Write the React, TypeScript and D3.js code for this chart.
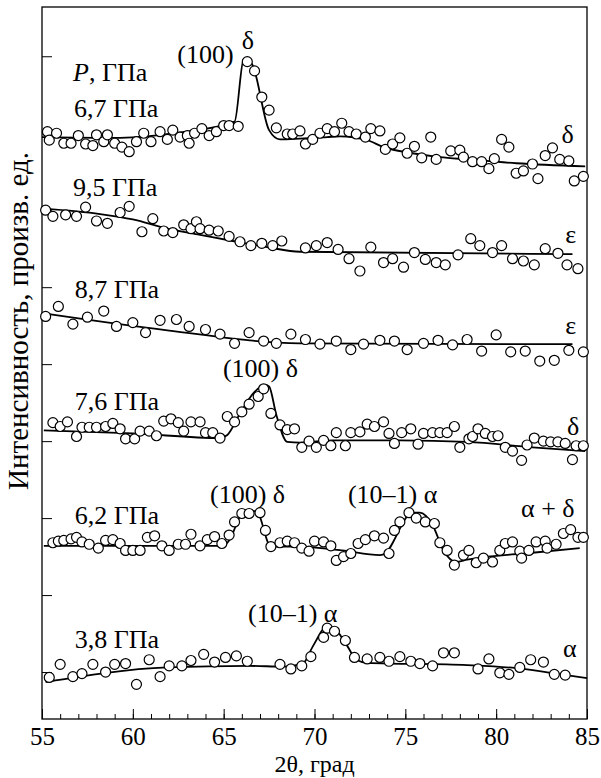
import React, { useEffect, useRef } from 'react';
import * as d3 from 'd3';

const W = 601, H = 778;
const margin = { left: 42, right: 14, top: 7, bottom: 59 };
const FONT = 'Liberation Serif, Times New Roman, Times, DejaVu Serif, serif';

// observed points [2θ, intensity]
const obs67 = [[55.3,70.2],[55.4,69.1],[55.8,70.0],[56.2,68.7],[56.6,68.7],[57.0,69.7],[57.4,68.6],[57.8,68.4],[58.0,69.8],[58.4,68.9],[58.6,69.8],[59.0,68.7],[59.4,68.2],[59.8,67.6],[60.2,68.9],[60.6,70.0],[61.0,68.9],[61.5,70.2],[61.9,69.2],[62.2,70.4],[62.6,69.5],[63.0,69.7],[63.1,68.7],[63.4,70.0],[63.8,70.6],[64.2,69.7],[64.6,70.2],[65.0,71.0],[65.3,71.0],[65.8,70.9],[66.3,79.3],[66.7,78.1],[67.1,74.7],[67.5,73.0],[67.9,70.7],[68.5,69.9],[68.8,69.9],[69.2,70.3],[69.5,68.6],[69.9,69.2],[70.3,70.0],[70.7,70.6],[71.1,70.2],[71.5,71.3],[71.9,70.2],[72.3,69.9],[72.8,69.5],[73.1,70.6],[73.6,70.3],[73.9,67.9],[74.3,68.6],[74.7,69.4],[75.1,67.4],[75.5,68.3],[75.9,66.8],[76.4,69.5],[76.7,66.6],[77.5,67.7],[78.0,67.8],[78.2,66.9],[78.7,66.3],[79.2,66.3],[79.6,65.4],[79.9,66.7],[80.3,69.2],[80.7,68.2],[81.1,64.8],[81.5,65.1],[82.0,66.0],[82.3,64.1],[82.7,67.1],[83.1,68.1],[83.5,66.6],[84.0,66.4],[84.3,63.8],[84.8,64.4]];
const fit67 = [[55.0,69.5],[59.3,69.4],[62.6,70.1],[65.6,71.5],[66.1,79.6],[66.3,79.7],[66.6,78.8],[67.5,70.4],[68.1,69.2],[69.2,69.3],[70.7,69.5],[71.4,69.6],[72.9,69.1],[73.8,68.2],[75.4,67.4],[76.9,66.9],[78.4,66.6],[81.1,66.1],[84.9,65.7]];

const obs95 = [[55.2,60.0],[55.6,59.2],[56.3,59.4],[56.9,59.2],[57.4,60.4],[58.0,58.6],[58.6,58.3],[59.3,59.7],[59.8,60.5],[60.5,57.2],[61.1,58.9],[61.7,57.3],[62.2,57.1],[62.8,58.1],[63.2,57.6],[63.5,58.5],[63.7,57.6],[64.2,57.4],[64.7,57.3],[65.3,56.6],[65.9,55.9],[66.5,55.4],[67.1,55.7],[67.7,55.4],[68.2,56.0],[69.5,55.1],[70.1,55.4],[70.7,55.8],[71.3,54.9],[71.9,53.7],[72.5,52.1],[73.1,55.2],[73.8,53.2],[74.3,53.7],[74.9,52.6],[75.5,54.5],[76.1,53.6],[76.7,53.2],[77.2,52.9],[77.9,54.2],[78.6,56.3],[79.1,55.4],[79.8,54.5],[80.3,55.4],[80.9,53.7],[81.5,53.4],[82.1,52.9],[82.7,55.0],[83.4,54.4],[83.9,52.9],[84.5,52.4]];
const fit95 = [[55.1,60.2],[58.2,59.5],[60.0,58.8],[61.9,57.6],[63.7,56.8],[65.5,56.0],[67.4,55.2],[69.2,54.6],[84.2,54.3]];

const obs87 = [[55.2,46.2],[55.9,47.5],[56.7,45.2],[57.5,46.1],[58.4,46.9],[59.1,44.9],[60.0,45.4],[60.7,44.1],[61.5,45.7],[62.4,45.8],[63.1,44.9],[64.0,44.5],[64.8,43.9],[65.6,42.7],[66.4,44.1],[67.2,43.0],[67.9,42.7],[68.7,43.9],[69.5,43.2],[70.3,42.6],[71.2,43.0],[72.0,41.9],[72.7,42.6],[73.6,43.1],[74.4,43.0],[75.1,41.9],[76.0,42.7],[76.8,43.1],[77.6,42.5],[78.4,43.2],[79.2,41.7],[80.0,43.8],[80.8,41.6],[81.6,41.7],[82.4,40.4],[83.2,40.5],[84.0,41.8],[84.8,41.6]];
const fit87 = [[55.1,46.6],[61.9,44.4],[69.2,42.7],[84.2,42.6]];

const obs76 = [[55.6,32.4],[56.0,31.9],[56.4,32.5],[56.9,30.6],[57.2,31.8],[57.6,31.8],[58.0,31.8],[58.5,31.9],[58.9,32.3],[59.3,31.6],[59.6,30.3],[60.1,30.3],[60.4,31.3],[60.9,31.3],[61.3,30.7],[61.7,32.6],[62.1,32.9],[62.5,32.4],[62.8,31.3],[63.2,32.5],[63.7,32.5],[64.0,31.1],[64.4,31.1],[64.8,30.4],[65.2,33.2],[65.6,32.5],[66.0,33.8],[66.4,34.8],[66.9,35.8],[67.2,36.8],[67.6,33.6],[68.1,32.1],[68.5,31.5],[68.9,31.6],[69.3,29.2],[69.7,30.0],[70.1,29.2],[70.5,30.1],[70.9,29.4],[71.2,31.1],[71.7,29.4],[72.0,31.1],[72.5,31.2],[72.9,32.2],[73.3,31.9],[73.8,32.5],[74.1,31.0],[74.4,29.7],[74.8,31.1],[75.3,31.6],[75.7,29.6],[76.0,31.0],[76.5,31.1],[76.9,31.1],[77.3,31.1],[77.7,31.9],[78.0,29.2],[78.5,30.3],[78.7,30.6],[79.0,31.6],[79.4,31.0],[79.8,30.6],[80.1,30.7],[80.5,29.2],[80.9,28.7],[81.4,27.5],[81.7,29.5],[82.1,30.4],[82.6,30.0],[83.0,29.9],[83.4,29.9],[83.8,29.7],[84.2,27.6],[84.4,29.4],[84.8,29.4]];
const fit76 = [[55.1,31.4],[60.0,31.0],[64.8,30.4],[65.2,30.8],[65.9,33.6],[66.7,36.4],[67.3,37.3],[67.5,37.1],[67.9,33.4],[68.5,29.9],[69.2,29.8],[71.0,30.1],[74.7,30.1],[78.4,29.9],[82.0,29.2],[84.9,28.7]];

const obs62 = [[55.6,16.8],[55.9,17.0],[56.2,17.1],[56.6,17.3],[56.9,17.5],[57.2,16.9],[57.6,16.6],[58.1,16.1],[58.5,17.1],[58.9,17.2],[59.3,16.7],[59.6,15.8],[60.0,15.8],[60.4,15.8],[60.8,17.5],[61.2,17.7],[61.6,16.4],[62.0,15.8],[62.5,16.6],[62.9,16.6],[63.2,17.9],[63.7,16.4],[64.1,17.2],[64.5,17.6],[64.9,16.7],[65.3,17.8],[65.6,19.5],[66.0,20.6],[66.4,20.6],[67.0,20.7],[67.3,18.4],[67.6,16.3],[68.1,16.8],[68.5,17.0],[68.9,16.8],[69.3,16.1],[69.7,15.7],[70.0,17.0],[70.5,16.9],[70.9,16.4],[71.2,14.5],[71.6,15.0],[72.0,15.4],[72.4,16.7],[72.8,17.2],[73.3,17.7],[73.8,17.4],[74.1,15.4],[74.4,18.4],[74.7,19.5],[75.2,20.7],[75.6,20.0],[76.1,19.5],[76.6,19.3],[76.9,16.8],[77.3,15.8],[77.7,13.9],[78.2,15.2],[78.5,15.8],[78.9,14.2],[79.3,14.8],[79.8,14.3],[80.2,15.8],[80.5,16.7],[80.9,16.9],[81.3,15.7],[81.4,14.8],[81.8,15.8],[82.2,16.9],[82.7,17.0],[82.8,16.1],[83.3,16.6],[83.7,18.0],[84.1,18.5],[84.5,17.5],[84.8,17.5]];
const fit62 = [[55.1,16.4],[65.0,16.4],[65.3,17.1],[66.1,20.8],[66.8,20.9],[67.6,16.3],[69.2,16.3],[71.5,15.8],[73.6,15.2],[73.8,15.3],[75.4,20.7],[75.8,20.7],[76.5,19.1],[77.1,15.8],[77.8,14.3],[78.4,14.6],[82.0,15.5],[84.6,16.1]];

const obs38 = [[55.4,-0.7],[56.0,1.0],[56.7,-0.6],[57.2,-0.2],[57.8,1.0],[58.5,0.0],[59.0,1.0],[59.6,1.1],[60.2,-1.6],[60.9,1.6],[61.5,-0.6],[62.0,0.8],[62.7,0.8],[63.2,1.5],[63.9,2.3],[64.5,1.3],[65.1,1.9],[65.7,2.1],[66.3,1.4],[68.1,1.0],[68.7,0.4],[69.3,0.8],[69.8,2.0],[70.5,4.5],[70.7,5.7],[71.1,5.3],[71.7,4.1],[72.2,1.9],[72.9,1.7],[73.6,1.9],[74.1,1.4],[74.7,2.0],[75.3,1.4],[75.8,1.1],[76.5,0.8],[77.1,2.5],[77.7,2.5],[79.0,0.4],[79.6,1.7],[80.2,-0.1],[80.7,-0.3],[81.3,0.6],[81.9,1.6],[82.6,1.3],[83.2,-0.3],[83.8,-0.4]];
const fit38 = [[55.2,-1.3],[61.9,0.6],[66.4,0.8],[68.3,0.7],[69.4,1.2],[69.9,3.3],[70.7,5.9],[71.0,5.8],[71.8,3.4],[72.3,1.6],[72.9,1.2],[78.4,0.9],[81.1,0.5],[83.0,-0.1],[85.0,-0.8]];

const series = [
  { obs: obs67, fit: fit67 },
  { obs: obs95, fit: fit95 },
  { obs: obs87, fit: fit87 },
  { obs: obs76, fit: fit76 },
  { obs: obs62, fit: fit62 },
  { obs: obs38, fit: fit38 },
];

const xMajor = [55, 60, 65, 70, 75, 80, 85];
const xMinor = d3.range(55, 86, 1);
const yTicks = [0, 10, 20, 30, 40, 50, 60, 70, 80];

// annotations in data coords (2θ, intensity), text-anchor start
const labels = [
  { text: '6,7 ГПа', x: 56.76, y: 72.1 },
  { text: '(100)', x: 62.45, y: 79.1 },
  { text: 'δ', x: 66.0, y: 81.0 },
  { text: 'δ', x: 83.6, y: 68.7 },
  { text: '9,5 ГПа', x: 56.7, y: 61.9 },
  { text: 'ε', x: 83.8, y: 55.7 },
  { text: '8,7 ГПа', x: 56.8, y: 48.6 },
  { text: 'ε', x: 83.8, y: 43.9 },
  { text: '(100) δ', x: 64.96, y: 38.3 },
  { text: '7,6 ГПа', x: 56.8, y: 34.0 },
  { text: 'δ', x: 83.9, y: 30.8 },
  { text: '(100) δ', x: 64.25, y: 21.9 },
  { text: '6,2 ГПа', x: 56.8, y: 19.2 },
  { text: '(10–1) α', x: 71.84, y: 21.9 },
  { text: 'α + δ', x: 81.37, y: 20.1 },
  { text: '(10–1) α', x: 66.34, y: 6.5 },
  { text: '3,8 ГПа', x: 56.8, y: 3.1 },
  { text: 'α', x: 83.68, y: 1.9 },
];

export default function App() {
  const xAxisRef = useRef<SVGGElement>(null);
  const xMinorRef = useRef<SVGGElement>(null);
  const yAxisRef = useRef<SVGGElement>(null);

  const x = d3.scaleLinear().domain([55, 85]).range([margin.left, W - margin.right]);
  const y = d3.scaleLinear().domain([-6.1, 86.4]).range([H - margin.bottom, margin.top]);

  const line = d3.line<number[]>()
    .x(d => x(d[0]))
    .y(d => y(d[1]))
    .curve(d3.curveMonotoneX);

  useEffect(() => {
    document.body.style.margin = '0';

    const gMinor = d3.select(xMinorRef.current);
    gMinor.call(d3.axisBottom(x).tickValues(xMinor).tickSize(-5).tickFormat(() => '') as any);
    gMinor.select('.domain').remove();

    const gx = d3.select(xAxisRef.current);
    gx.call(d3.axisBottom(x).tickValues(xMajor).tickSize(-10).tickPadding(8).tickFormat(d3.format('d')) as any);
    gx.select('.domain').remove();
    gx.attr('font-size', 25).attr('font-family', FONT);
    gx.selectAll('text').style('font-family', FONT);

    const gy = d3.select(yAxisRef.current);
    gy.call(d3.axisLeft(y).tickValues(yTicks).tickSize(-10).tickFormat(() => '') as any);
    gy.select('.domain').remove();
  }, []);

  const plotH = H - margin.top - margin.bottom;
  const txt = { fontFamily: FONT };

  return (
    <svg width={W} height={H} style={{ position: 'absolute', left: 0, top: 0, display: 'block', background: '#fff', fontFamily: FONT }}>
      <rect x={margin.left} y={margin.top} width={W - margin.left - margin.right} height={plotH}
        fill="none" stroke="#000" strokeWidth={1.3} />
      <g ref={xMinorRef} transform={`translate(0,${H - margin.bottom})`} />
      <g ref={xAxisRef} transform={`translate(0,${H - margin.bottom})`} />
      <g ref={yAxisRef} transform={`translate(${margin.left},0)`} />

      {series.map((s, i) => (
        <path key={'f' + i} d={line(s.fit) || ''} fill="none" stroke="#000" strokeWidth={1.8} />
      ))}
      {series.map((s, i) => (
        <g key={'o' + i}>
          {s.obs.map((d, j) => (
            <circle key={j} cx={x(d[0])} cy={y(d[1])} r={5} fill="#fff" stroke="#000" strokeWidth={1.2} />
          ))}
        </g>
      ))}

      <text x={x(56.71)} y={y(76.8)} fontSize={26} style={txt}>
        <tspan fontStyle="italic">P</tspan>, ГПа
      </text>
      {labels.map((l, i) => (
        <text key={i} x={x(l.x)} y={y(l.y)} fontSize={26} style={txt}>{l.text}</text>
      ))}

      <text x={(margin.left + W - margin.right) / 2} y={772} fontSize={24} textAnchor="middle" style={txt}>2θ, град</text>
      <text transform={`translate(28,${321}) rotate(-90)`} fontSize={29} textAnchor="middle" style={txt}>
        Интенсивность, произв. ед.
      </text>
    </svg>
  );
}
